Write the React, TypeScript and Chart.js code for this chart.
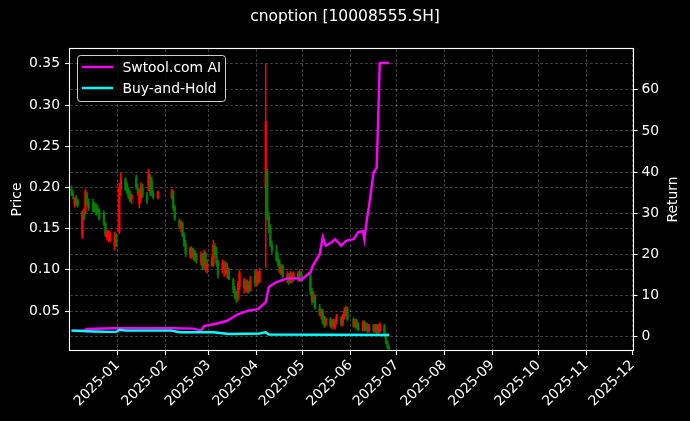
import React, { useEffect, useRef } from 'react';
import { Chart, registerables } from 'chart.js';

Chart.register(...registerables);

// ---------- data ----------
const candleDates = [
  '2024-12-02','2024-12-03','2024-12-04','2024-12-05','2024-12-06','2024-12-09','2024-12-10','2024-12-11','2024-12-12','2024-12-13',
  '2024-12-16','2024-12-17','2024-12-18','2024-12-19','2024-12-20','2024-12-23','2024-12-24','2024-12-25','2024-12-26','2024-12-27',
  '2024-12-30','2024-12-31',
  '2025-01-02','2025-01-03','2025-01-06','2025-01-07','2025-01-08','2025-01-09','2025-01-10','2025-01-13','2025-01-14','2025-01-15',
  '2025-01-16','2025-01-17','2025-01-20','2025-01-21','2025-01-22','2025-01-23','2025-01-24','2025-01-27',
  '2025-02-05','2025-02-06','2025-02-07','2025-02-10','2025-02-11','2025-02-12','2025-02-13','2025-02-14','2025-02-17','2025-02-18',
  '2025-02-19','2025-02-20','2025-02-21','2025-02-24','2025-02-25','2025-02-26','2025-02-27','2025-02-28',
  '2025-03-03','2025-03-04','2025-03-05','2025-03-06','2025-03-07','2025-03-10','2025-03-11','2025-03-12','2025-03-13','2025-03-14',
  '2025-03-17','2025-03-18','2025-03-19','2025-03-20','2025-03-21','2025-03-24','2025-03-25','2025-03-26','2025-03-27','2025-03-28',
  '2025-03-31',
  '2025-04-01','2025-04-02','2025-04-03','2025-04-07','2025-04-08','2025-04-09','2025-04-10','2025-04-11','2025-04-14','2025-04-15',
  '2025-04-16','2025-04-17','2025-04-18','2025-04-21','2025-04-22','2025-04-23','2025-04-24','2025-04-25','2025-04-28','2025-04-29',
  '2025-04-30',
  '2025-05-06','2025-05-07','2025-05-08','2025-05-09','2025-05-12','2025-05-13','2025-05-14','2025-05-15','2025-05-16','2025-05-19',
  '2025-05-20','2025-05-21','2025-05-22','2025-05-23','2025-05-26','2025-05-27','2025-05-28','2025-05-29','2025-05-30',
  '2025-06-03','2025-06-04','2025-06-05','2025-06-06','2025-06-09','2025-06-10','2025-06-11','2025-06-12','2025-06-13','2025-06-16',
  '2025-06-17','2025-06-18','2025-06-19','2025-06-20','2025-06-23','2025-06-24','2025-06-25','2025-06-26',
];

const opens = [
  0.198,0.192,0.180,0.186,0.184,0.142,0.172,0.170,0.192,0.182,
  0.180,0.178,0.176,0.174,0.172,0.168,0.156,0.140,0.142,0.136,
  0.128,0.142,
  0.146,0.198,0.210,0.204,0.196,0.190,0.186,0.212,0.198,0.180,
  0.186,0.200,0.190,0.198,0.214,0.208,0.192,0.188,
  0.188,0.194,0.176,0.160,0.150,0.156,0.142,0.132,0.118,0.126,
  0.116,0.122,0.116,0.110,0.118,0.104,0.120,0.100,
  0.112,0.106,0.128,0.120,0.110,0.100,0.102,0.108,0.096,0.100,
  0.088,0.076,0.070,0.066,0.080,0.078,0.086,0.076,0.084,0.076,
  0.092,
  0.084,0.096,0.086,0.200,0.220,0.165,0.150,0.130,0.122,0.114,
  0.108,0.096,0.104,0.088,0.094,0.086,0.094,0.088,0.096,0.090,
  0.096,
  0.096,0.074,0.062,0.068,0.054,0.044,0.050,0.038,0.034,0.040,
  0.032,0.038,0.030,0.036,0.042,0.034,0.044,0.048,0.054,
  0.040,0.032,0.038,0.032,0.028,0.036,0.028,0.034,0.026,0.032,
  0.026,0.032,0.024,0.026,0.032,0.020,0.012,0.006,
];

const highs = [
  0.202,0.196,0.188,0.190,0.186,0.172,0.174,0.198,0.194,0.186,
  0.186,0.182,0.180,0.178,0.174,0.172,0.158,0.148,0.148,0.146,
  0.146,0.144,
  0.205,0.217,0.212,0.206,0.200,0.196,0.192,0.215,0.204,0.198,
  0.206,0.204,0.194,0.222,0.216,0.212,0.196,0.196,
  0.198,0.196,0.178,0.162,0.160,0.158,0.145,0.136,0.128,0.128,
  0.126,0.124,0.120,0.122,0.120,0.124,0.122,0.112,
  0.116,0.136,0.132,0.128,0.112,0.112,0.110,0.110,0.108,0.102,
  0.090,0.080,0.074,0.086,0.100,0.090,0.088,0.088,0.086,0.092,
  0.100,
  0.100,0.098,0.102,0.350,0.222,0.170,0.155,0.135,0.130,0.120,
  0.112,0.106,0.106,0.098,0.096,0.098,0.096,0.098,0.098,0.100,
  0.098,
  0.098,0.078,0.074,0.070,0.058,0.052,0.052,0.044,0.042,0.042,
  0.040,0.040,0.040,0.046,0.044,0.046,0.054,0.056,0.055,
  0.042,0.040,0.040,0.036,0.038,0.038,0.036,0.035,0.034,0.034,
  0.034,0.034,0.034,0.036,0.034,0.022,0.014,0.008,
];

const lows = [
  0.190,0.186,0.176,0.178,0.176,0.138,0.160,0.168,0.178,0.172,
  0.170,0.170,0.166,0.168,0.160,0.154,0.140,0.136,0.134,0.134,
  0.124,0.128,
  0.144,0.190,0.196,0.192,0.186,0.182,0.180,0.198,0.190,0.175,
  0.182,0.188,0.180,0.196,0.190,0.190,0.186,0.186,
  0.186,0.172,0.160,0.150,0.146,0.140,0.128,0.116,0.114,0.114,
  0.112,0.110,0.108,0.106,0.100,0.100,0.098,0.096,
  0.104,0.104,0.114,0.104,0.090,0.096,0.092,0.094,0.090,0.088,
  0.072,0.064,0.060,0.062,0.076,0.072,0.074,0.072,0.072,0.074,
  0.080,
  0.080,0.082,0.084,0.103,0.160,0.145,0.128,0.120,0.110,0.104,
  0.096,0.094,0.090,0.084,0.082,0.084,0.084,0.086,0.086,0.086,
  0.086,
  0.070,0.058,0.060,0.052,0.044,0.040,0.034,0.030,0.032,0.030,
  0.028,0.030,0.028,0.034,0.032,0.032,0.040,0.044,0.038,
  0.030,0.030,0.028,0.026,0.026,0.026,0.026,0.024,0.024,0.024,
  0.024,0.022,0.022,0.024,0.018,0.010,0.004,0.002,
];

const closes = [
  0.192,0.190,0.186,0.180,0.178,0.170,0.162,0.195,0.180,0.175,
  0.172,0.172,0.168,0.170,0.162,0.156,0.142,0.146,0.146,0.144,
  0.142,0.132,
  0.200,0.212,0.198,0.194,0.188,0.184,0.190,0.200,0.192,0.195,
  0.202,0.190,0.184,0.218,0.194,0.192,0.188,0.194,
  0.196,0.175,0.163,0.152,0.158,0.142,0.130,0.120,0.126,0.116,
  0.122,0.114,0.112,0.118,0.104,0.120,0.102,0.108,
  0.106,0.130,0.118,0.108,0.094,0.108,0.106,0.098,0.104,0.090,
  0.076,0.068,0.064,0.082,0.096,0.086,0.078,0.084,0.076,0.088,
  0.084,
  0.096,0.086,0.098,0.280,0.165,0.150,0.130,0.124,0.112,0.106,
  0.098,0.104,0.092,0.094,0.086,0.094,0.088,0.096,0.090,0.096,
  0.090,
  0.074,0.062,0.070,0.054,0.046,0.050,0.036,0.034,0.040,0.032,
  0.038,0.032,0.036,0.044,0.034,0.044,0.050,0.054,0.040,
  0.032,0.038,0.030,0.028,0.036,0.028,0.034,0.026,0.032,0.026,
  0.032,0.024,0.032,0.034,0.020,0.012,0.006,0.004,
];

const aiDates = [
  '2024-12-02','2024-12-10','2024-12-12','2024-12-30','2025-02-05','2025-02-19','2025-02-24','2025-02-26','2025-03-07','2025-03-13',
  '2025-03-19','2025-03-26','2025-04-02','2025-04-07','2025-04-09','2025-04-14','2025-04-21','2025-04-28','2025-04-30','2025-05-06',
  '2025-05-08','2025-05-12','2025-05-14','2025-05-16','2025-05-20','2025-05-22','2025-05-26','2025-05-29','2025-06-03','2025-06-06',
  '2025-06-09','2025-06-10','2025-06-11','2025-06-13','2025-06-16','2025-06-18','2025-06-19','2025-06-20','2025-06-26',
];
const aiReturn = [
  1.5,1.5,1.9,2.1,2.1,2.0,1.5,2.6,3.3,3.9,
  5.3,6.3,6.7,8.4,12.1,13.3,14.2,14.2,13.8,15.7,
  17.6,20.0,24.2,22.1,23.0,23.7,22.1,23.3,23.7,25.4,
  25.7,23.7,26.9,31.7,39.9,41.1,53.5,66.5,66.5,
];

const bhDates = [
  '2024-12-02','2024-12-16','2024-12-27','2024-12-31','2025-01-02','2025-01-06','2025-02-05','2025-02-10','2025-03-04','2025-03-14',
  '2025-04-03','2025-04-07','2025-04-09','2025-06-26',
];
const bhReturn = [1.5,1.3,1.2,1.2,1.7,1.5,1.5,1.1,1.1,0.7,0.8,1.1,0.55,0.45];

const priceTicks = [0.05, 0.1, 0.15, 0.2, 0.25, 0.3, 0.35];
const returnTicks = [0, 10, 20, 30, 40, 50, 60];
const monthTicks = ['2025-01','2025-02','2025-03','2025-04','2025-05','2025-06','2025-07','2025-08','2025-09','2025-10','2025-11','2025-12'];

const titleText = 'cnoption [10008555.SH]';
const seriesNames = ['Swtool.com AI', 'Buy-and-Hold'];

// ---------- helpers ----------
const ts = (s: string) => Date.parse(s + 'T00:00:00Z');
const FONT = 'DejaVu Sans';
const UP = '#ff0000';
const DOWN = '#008000';
const AI_COLOR = '#ff00ff';
const BH_COLOR = '#00ffff';
const LINE_W = 2.4;

const monthLabel = (v: number) => {
  const d = new Date(v);
  const m = d.getUTCMonth() + 1;
  return d.getUTCFullYear() + '-' + (m < 10 ? '0' + m : '' + m);
};

const decorPlugin = {
  id: 'decor',
  afterDraw(chart: any) {
    const { ctx, chartArea: a } = chart;
    ctx.save();
    // frame
    ctx.strokeStyle = '#ffffff';
    ctx.lineWidth = 1.1;
    ctx.strokeRect(Math.round(a.left) - 0.5, Math.round(a.top) - 0.5, Math.round(a.right) - Math.round(a.left) + 1, Math.round(a.bottom) - Math.round(a.top) + 1);

    // title
    ctx.fillStyle = '#ffffff';
    ctx.font = `15.5px "${FONT}"`;
    ctx.textAlign = 'center';
    ctx.textBaseline = 'middle';
    ctx.fillText(titleText, chart.width / 2, 17);

    // axis titles
    const midY = (a.top + a.bottom) / 2;
    ctx.font = `13.9px "${FONT}"`;
    ctx.save();
    ctx.translate(17, midY);
    ctx.rotate(-Math.PI / 2);
    ctx.fillText('Price', 0, 0);
    ctx.restore();
    ctx.save();
    ctx.translate(673, midY);
    ctx.rotate(-Math.PI / 2);
    ctx.fillText('Return', 0, 0);
    ctx.restore();

    // legend
    const lx = a.left + 7.5;
    const ly = a.top + 6.5;
    const lw = 148;
    const lh = 46;
    ctx.beginPath();
    ctx.roundRect(lx, ly, lw, lh, 3);
    ctx.fillStyle = 'rgba(0,0,0,0.8)';
    ctx.fill();
    ctx.strokeStyle = 'rgba(255,255,255,0.8)';
    ctx.lineWidth = 1;
    ctx.stroke();
    const rows = [
      { name: seriesNames[0], color: AI_COLOR, y: ly + 11.5 },
      { name: seriesNames[1], color: BH_COLOR, y: ly + 32.5 },
    ];
    ctx.textAlign = 'left';
    ctx.textBaseline = 'middle';
    ctx.font = `13.9px "${FONT}"`;
    rows.forEach((r) => {
      ctx.strokeStyle = r.color;
      ctx.lineWidth = LINE_W;
      ctx.beginPath();
      ctx.moveTo(lx + 4.5, r.y);
      ctx.lineTo(lx + 35.5, r.y);
      ctx.stroke();
      ctx.fillStyle = '#ffffff';
      ctx.fillText(r.name, lx + 45, r.y + 1);
    });
    ctx.restore();
  },
};

export default function App() {
  const ref = useRef<HTMLCanvasElement | null>(null);

  useEffect(() => {
    document.body.style.margin = '0';
    document.body.style.background = '#000';
    const canvas = ref.current;
    if (!canvas) return;

    const wick = candleDates.map((d, i) => ({ x: ts(d), y: [lows[i], highs[i]] }));
    const body = candleDates.map((d, i) => ({ x: ts(d), y: [opens[i], closes[i]] }));
    const colors = candleDates.map((_, i) => (closes[i] >= opens[i] ? UP : DOWN));

    const gridCommon = {
      color: 'rgba(255,255,255,0.3)',
      lineWidth: 0.8,
      tickColor: '#ffffff',
      tickLength: 5,
      tickWidth: 1.1,
    };
    const borderCommon = { display: false, dash: [3, 2] };
    const tickFont = { family: FONT, size: 13.9 };

    const chart = new Chart(canvas, {
      type: 'bar',
      data: {
        datasets: [
          {
            type: 'line',
            label: seriesNames[1],
            data: bhDates.map((d, i) => ({ x: ts(d), y: bhReturn[i] })),
            yAxisID: 'y1',
            borderColor: BH_COLOR,
            borderWidth: LINE_W,
            pointRadius: 0,
            tension: 0,
            order: 0,
          } as any,
          {
            type: 'line',
            label: seriesNames[0],
            data: aiDates.map((d, i) => ({ x: ts(d), y: aiReturn[i] })),
            yAxisID: 'y1',
            borderColor: AI_COLOR,
            borderWidth: LINE_W,
            pointRadius: 0,
            tension: 0,
            order: 1,
          } as any,
          {
            type: 'bar',
            label: 'body',
            data: body as any,
            yAxisID: 'y',
            backgroundColor: colors,
            borderWidth: 0,
            barThickness: 1.6,
            minBarLength: 1,
            grouped: false,
            order: 2,
          } as any,
          {
            type: 'bar',
            label: 'wick',
            data: wick as any,
            yAxisID: 'y',
            backgroundColor: colors,
            borderWidth: 0,
            barThickness: 0.9,
            grouped: false,
            order: 3,
          } as any,
        ],
      },
      options: {
        responsive: false,
        animation: false,
        devicePixelRatio: 1,
        layout: { padding: { top: 49, left: 0, right: 0, bottom: 0 } },
        plugins: {
          legend: { display: false },
          title: { display: false },
          tooltip: { enabled: false },
        },
        scales: {
          x: {
            type: 'linear',
            min: ts('2024-12-01'),
            max: ts('2025-12-01'),
            offset: false,
            afterBuildTicks: (s: any) => {
              s.ticks = monthTicks.map((m) => ({ value: ts(m + '-01') }));
            },
            afterFit: (s: any) => {
              s.height = 71;
            },
            ticks: {
              color: '#ffffff',
              font: tickFont,
              autoSkip: false,
              maxRotation: 45,
              minRotation: 45,
              padding: 2,
              callback: (v: any) => monthLabel(Number(v)),
            },
            grid: { ...gridCommon, offset: false },
            border: borderCommon,
          },
          y: {
            type: 'linear',
            position: 'left',
            min: 0.0027,
            max: 0.368,
            afterBuildTicks: (s: any) => {
              s.ticks = priceTicks.map((v) => ({ value: v }));
            },
            afterFit: (s: any) => {
              s.width = 70;
            },
            ticks: {
              color: '#ffffff',
              font: tickFont,
              padding: 5,
              callback: (v: any) => Number(v).toFixed(2),
            },
            grid: gridCommon,
            border: borderCommon,
          },
          y1: {
            type: 'linear',
            position: 'right',
            min: -3.2,
            max: 69.9,
            afterBuildTicks: (s: any) => {
              s.ticks = returnTicks.map((v) => ({ value: v }));
            },
            afterFit: (s: any) => {
              s.width = 57.5;
            },
            ticks: {
              color: '#ffffff',
              font: tickFont,
              padding: 4,
              callback: (v: any) => String(v),
            },
            grid: gridCommon,
            border: borderCommon,
          },
        },
      } as any,
      plugins: [decorPlugin],
    });

    return () => {
      chart.destroy();
    };
  }, []);

  return (
    <div style={{ position: 'fixed', left: 0, top: 0, width: 690, height: 421, background: '#000' }}>
      <canvas ref={ref} width={690} height={421} style={{ display: 'block', width: 690, height: 421 }} />
    </div>
  );
}
